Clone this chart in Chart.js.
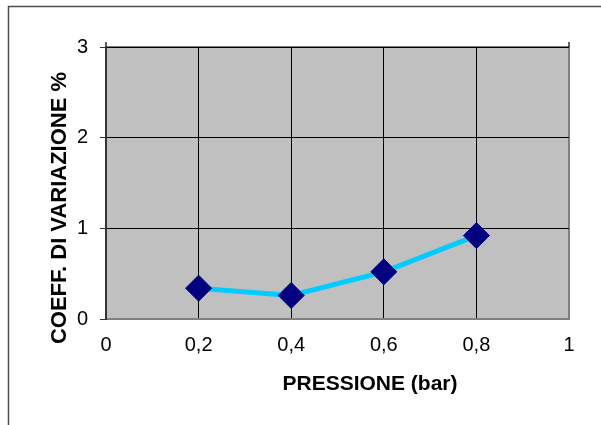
<!DOCTYPE html>
<html>
<head>
<meta charset="utf-8">
<title>Coefficiente di variazione</title>
<script src="https://cdn.jsdelivr.net/npm/chart.js@4.4.1/dist/chart.umd.min.js"></script>
<style>
  html, body { margin: 0; padding: 0; background: #ffffff; }
  #wrap { width: 601px; height: 425px; position: relative; }
</style>
</head>
<body>
<div id="wrap"><canvas id="chart" width="601" height="425"></canvas></div>
<script>
// Pressure readings (bar) and measured coefficient of variation (%)
const pressure = [0.2, 0.4, 0.6, 0.8];
const coeffVar = [0.34, 0.26, 0.52, 0.92];

// Axis tick labels (Italian decimal comma)
const xTickLabels = ['0', '0,2', '0,4', '0,6', '0,8', '1'];
const yTickLabels = ['0', '1', '2', '3'];

const xTitle = 'PRESSIONE (bar)';
const yTitle = 'COEFF. DI VARIAZIONE %';

const FONT = "'Liberation Sans', Arial, sans-serif";

// Grey plot background, outer frame and axis titles
const decor = {
  id: 'decor',
  beforeDraw(chart) {
    const { ctx, chartArea: a, width, height } = chart;
    ctx.save();
    ctx.fillStyle = '#ffffff';
    ctx.fillRect(0, 0, width, height);
    // outer frame (only left and top edges fall inside the canvas)
    ctx.strokeStyle = '#4d4d4d';
    ctx.lineWidth = 1.5;
    ctx.strokeRect(8.5, 6.5, width + 40, height + 40);
    // plot area
    ctx.fillStyle = '#c0c0c0';
    ctx.fillRect(a.left, a.top, a.right - a.left, a.bottom - a.top);
    ctx.strokeStyle = '#808080';
    ctx.lineWidth = 2;
    ctx.strokeRect(a.left, a.top, a.right - a.left, a.bottom - a.top);
    // short axis stubs above the top corners
    ctx.strokeStyle = '#333333';
    ctx.lineWidth = 1.5;
    ctx.beginPath();
    ctx.moveTo(a.left, a.top);
    ctx.lineTo(a.left, a.top - 5);
    ctx.moveTo(a.right, a.top);
    ctx.lineTo(a.right, a.top - 5);
    ctx.stroke();
    ctx.restore();
  },
  afterDraw(chart) {
    const { ctx } = chart;
    ctx.save();
    ctx.fillStyle = '#000000';
    ctx.textAlign = 'center';
    ctx.textBaseline = 'alphabetic';
    ctx.font = "bold 21px " + FONT;
    ctx.fillText(xTitle, 370, 390);
    ctx.font = "bold 22px " + FONT;
    ctx.translate(66, 208);
    ctx.rotate(-Math.PI / 2);
    ctx.fillText(yTitle, 0, 0);
    ctx.restore();
  }
};

new Chart(document.getElementById('chart'), {
  type: 'scatter',
  data: {
    datasets: [{
      data: pressure.map((p, i) => ({ x: p, y: coeffVar[i] })),
      showLine: true,
      borderColor: '#00ccff',
      borderWidth: 5,
      pointStyle: 'rectRot',
      pointRadius: 13,
      pointHoverRadius: 13,
      pointBackgroundColor: '#000080',
      pointBorderColor: '#000080',
      pointBorderWidth: 1,
      clip: false
    }]
  },
  options: {
    responsive: false,
    animation: false,
    events: [],
    layout: { autoPadding: false, padding: { left: 0, top: 47, right: 32, bottom: 0 } },
    plugins: { legend: { display: false }, tooltip: { enabled: false } },
    scales: {
      x: {
        type: 'linear',
        min: 0, max: 1,
        afterFit(scale) { scale.height = 106; },
        afterBuildTicks(scale) { scale.ticks = xTickLabels.map((_, i) => ({ value: i * 0.2 })); },
        ticks: {
          callback: (v, i) => xTickLabels[i],
          color: '#000000',
          font: { family: FONT, size: 20 },
          padding: 14,
          maxRotation: 0,
          autoSkip: false
        },
        grid: {
          color: ctx => (ctx.index === 0 || ctx.index === xTickLabels.length - 1) ? 'rgba(0,0,0,0)' : '#000000',
          lineWidth: 1,
          drawTicks: false
        },
        border: { display: true, color: '#808080', width: 2 }
      },
      y: {
        type: 'linear',
        min: 0, max: 3,
        afterFit(scale) { scale.width = 106; },
        afterBuildTicks(scale) { scale.ticks = yTickLabels.map((_, i) => ({ value: i })); },
        ticks: {
          callback: (v, i) => yTickLabels[i],
          color: '#000000',
          font: { family: FONT, size: 20 },
          padding: 12,
          autoSkip: false
        },
        grid: {
          color: ctx => ctx.index === 0 ? 'rgba(0,0,0,0)' : '#000000',
          lineWidth: 1,
          drawTicks: true,
          tickLength: 6,
          tickColor: '#333333'
        },
        border: { display: true, color: '#333333', width: 2 }
      }
    }
  },
  plugins: [decor]
});
</script>
</body>
</html>
